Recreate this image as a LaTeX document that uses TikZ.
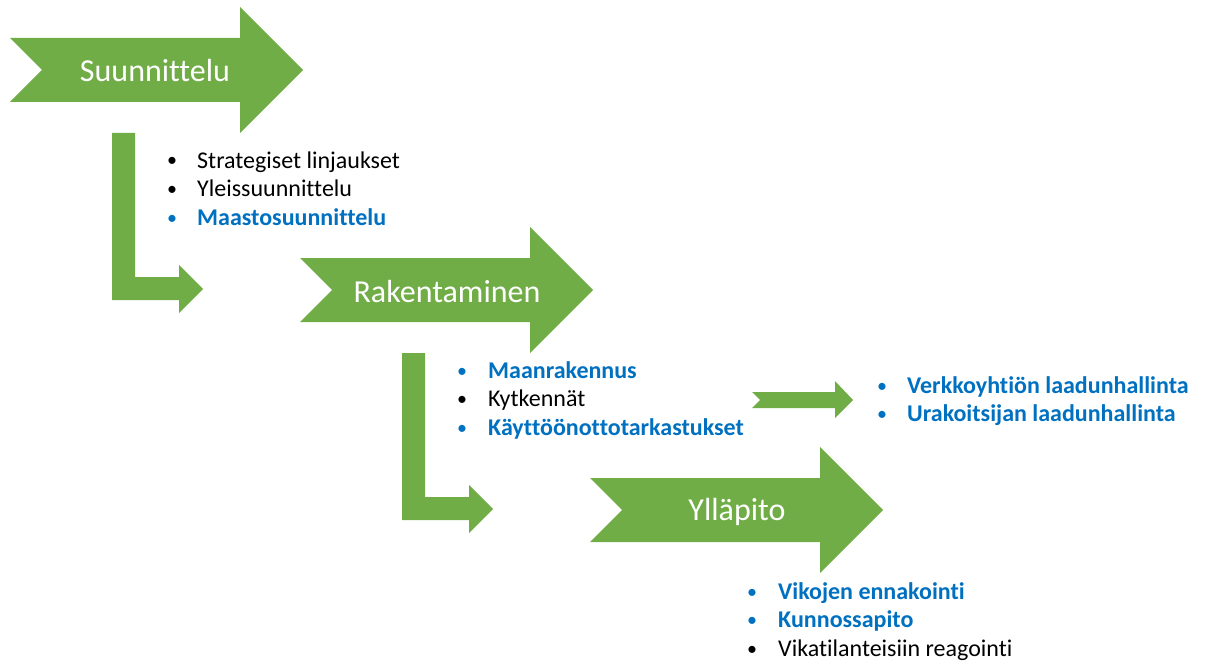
\documentclass[tikz,border=0pt]{standalone}
\usepackage{fontspec}
\setmainfont{Carlito}[RawFeature={-liga;-clig}]
\definecolor{arrowgreen}{HTML}{70AD47}
\definecolor{itemblue}{HTML}{0070C0}
\tikzset{
  shapefill/.style={fill=arrowgreen, draw=none},
  titletext/.style={text=white, font=\fontsize{32}{38}\selectfont, anchor=base, inner sep=0pt},
  bulletmark/.style={font=\fontsize{20}{24}\selectfont, anchor=base, inner sep=0pt},
  itemtext/.style={font=\fontsize{24}{29}\selectfont, anchor=base west, inner sep=0pt},
  normalitem/.style={text=black},
  blueitem/.style={text=itemblue},
  bolditem/.style={font=\fontsize{24}{29}\selectfont\bfseries},
}
\newcommand\listline[7]{%
  \node[bulletmark,#5] (#1b) at (#2,#4-1) {•};
  \node[itemtext,#5,#6] (#1) at (#3,#4) {#7};
}
\begin{document}
\begin{tikzpicture}[x=1pt,y=-1pt]
\path[use as bounding box] (0,0) rectangle (1205,666);

% big chevron arrows
\foreach \dx/\dy in {0/0, 290/220, 580/440}{
  \fill[shapefill, shift={(\dx,\dy)}]
    (10,38) -- (240,38) -- (240,7) -- (303,70) -- (240,133) -- (240,102)
    -- (10,102) -- (42,70) -- cycle;
}
% bent arrows
\foreach \dx/\dy in {0/0, 290/220}{
  \fill[shapefill, shift={(\dx,\dy)}]
    (112,133) -- (135,133) -- (135,277) -- (179,277) -- (179,265)
    -- (203,289) -- (179,313) -- (179,300) -- (112,300) -- cycle;
}
% small chevron arrow
\fill[shapefill] (752,392) -- (835,392) -- (835,381) -- (853,400)
  -- (835,418) -- (835,408) -- (752,408) -- (760,400) -- cycle;

% titles
\node[titletext] (t1) at (155,82) {Suunnittelu};
\node[titletext] (t2) at (447,302) {Rakentaminen};
\node[titletext] (t3) at (737,520) {Ylläpito};

% lists
\listline{a1}{172}{197}{168}{normalitem}{}{Strategiset linjaukset}
\listline{a2}{172}{197}{196.5}{normalitem}{}{Yleissuunnittelu}
\listline{a3}{172}{197}{225}{blueitem}{bolditem}{Maastosuunnittelu}

\listline{b1}{462}{488}{378}{blueitem}{bolditem}{Maanrakennus}
\listline{b2}{462}{488}{406.5}{normalitem}{}{Kytkennät}
\listline{b3}{462}{488}{435}{blueitem}{bolditem}{Käyttöönottotarkastukset}

\listline{c1}{882}{907}{393}{blueitem}{bolditem}{Verkkoyhtiön laadunhallinta}
\listline{c2}{882}{907}{421.5}{blueitem}{bolditem}{Urakoitsijan laadunhallinta}

\listline{d1}{752}{778}{599}{blueitem}{bolditem}{Vikojen ennakointi}
\listline{d2}{752}{778}{627.5}{blueitem}{bolditem}{Kunnossapito}
\listline{d3}{752}{778}{656}{normalitem}{}{Vikatilanteisiin reagointi}
\end{tikzpicture}
\end{document}
